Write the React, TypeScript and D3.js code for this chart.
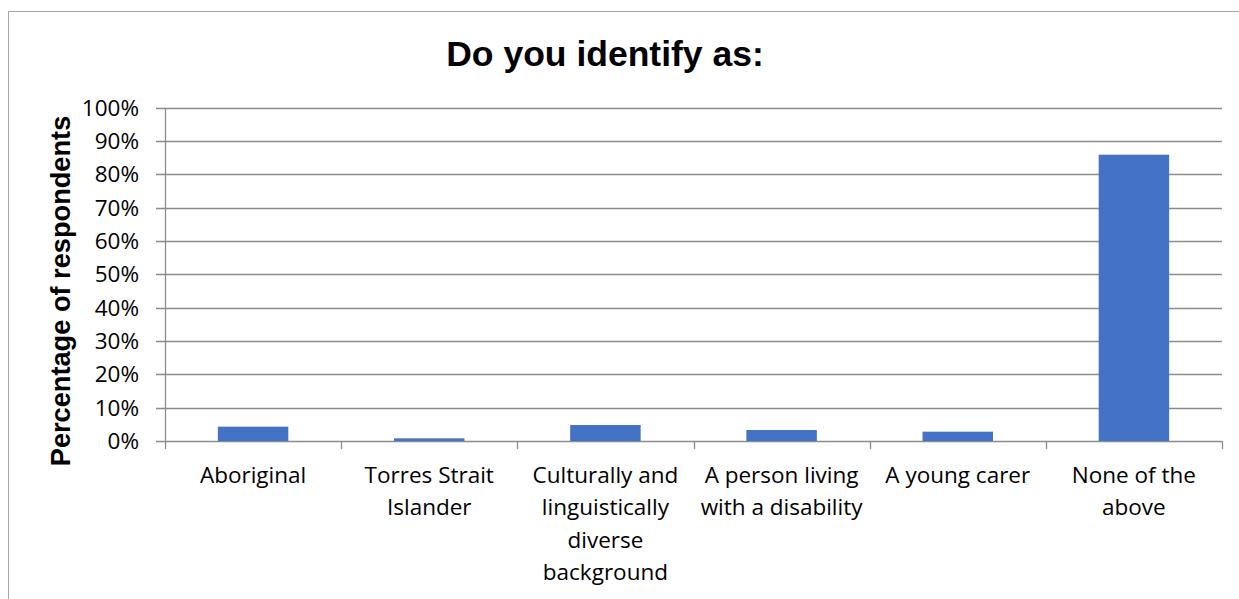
import React from "react";
import * as d3 from "d3";

const title = "Do you identify as:";
const yTitle = "Percentage of respondents";
const categories = [
  "Aboriginal",
  "Torres Strait\nIslander",
  "Culturally and\nlinguistically\ndiverse\nbackground",
  "A person living\nwith a disability",
  "A young carer",
  "None of the\nabove",
];
const values = [0.043, 0.008, 0.048, 0.033, 0.028, 0.859];
const yTicks = [0, 0.1, 0.2, 0.3, 0.4, 0.5, 0.6, 0.7, 0.8, 0.9, 1.0];

const W = 1239;
const H = 599;
const left = 165;
const right = 1222;
const top = 107.7;
const bottom = 441;

export default function App() {
  const x = d3.scaleBand<string>().domain(categories).range([left, right]).paddingInner(0.6).paddingOuter(0.3);
  const y = d3.scaleLinear().domain([0, 1]).range([bottom, top]);
  const fmt = d3.format(".0%");
  const step = x.step();
  const labelFont = "'Open Sans', sans-serif";
  const grid = "#8c8c8c";
  return (
    <svg width={W} height={H} style={{ position: "absolute", left: 0, top: 0 }}>
      <rect x={0} y={0} width={W} height={H} fill="#fff" />
      <line x1={8.5} y1={11.5} x2={W} y2={11.5} stroke="#a6a6a6" strokeWidth={1} />
      <line x1={8.5} y1={11.5} x2={8.5} y2={H} stroke="#a6a6a6" strokeWidth={1} />
      <text x={605} y={65.5} textAnchor="middle" fontFamily="'Liberation Sans', Arial, sans-serif" fontWeight="bold" fontSize={35.5}>
        {title}
      </text>
      <text
        transform={`translate(70,291) rotate(-90)`}
        textAnchor="middle"
        fontFamily="'Liberation Sans', Arial, sans-serif"
        fontWeight="bold"
        fontSize={27.2}
      >
        {yTitle}
      </text>
      {yTicks.map((t) => (
        <g key={t}>
          <line x1={156} x2={right} y1={Math.round(y(t)) + 0.5} y2={Math.round(y(t)) + 0.5} stroke={grid} strokeWidth={1.3} />
          <text x={139} y={y(t)} dy="0.35em" textAnchor="end" fontFamily={labelFont} fontSize={22.5} fill="#000">
            {fmt(t)}
          </text>
        </g>
      ))}
      <line x1={left + 0.5} x2={left + 0.5} y1={top} y2={bottom} stroke={grid} strokeWidth={1.3} />
      {d3.range(categories.length + 1).map((i) => {
        const xx = Math.round(left + i * step) + 0.5;
        return <line key={i} x1={xx} x2={xx} y1={bottom} y2={bottom + 8} stroke={grid} strokeWidth={1.3} />;
      })}
      {categories.map((c, i) => (
        <rect
          key={c}
          x={x(c)}
          y={y(values[i])}
          width={x.bandwidth()}
          height={bottom - y(values[i])}
          fill="#4472C4"
        />
      ))}
      {categories.map((c) => {
        const cx = (x(c) as number) + x.bandwidth() / 2;
        return (
          <text key={c} textAnchor="middle" fontFamily={labelFont} fontSize={22.5} fill="#000">
            {c.split("\n").map((ln, j) => (
              <tspan key={j} x={cx} y={483 + j * 32.3}>
                {ln}
              </tspan>
            ))}
          </text>
        );
      })}
    </svg>
  );
}
